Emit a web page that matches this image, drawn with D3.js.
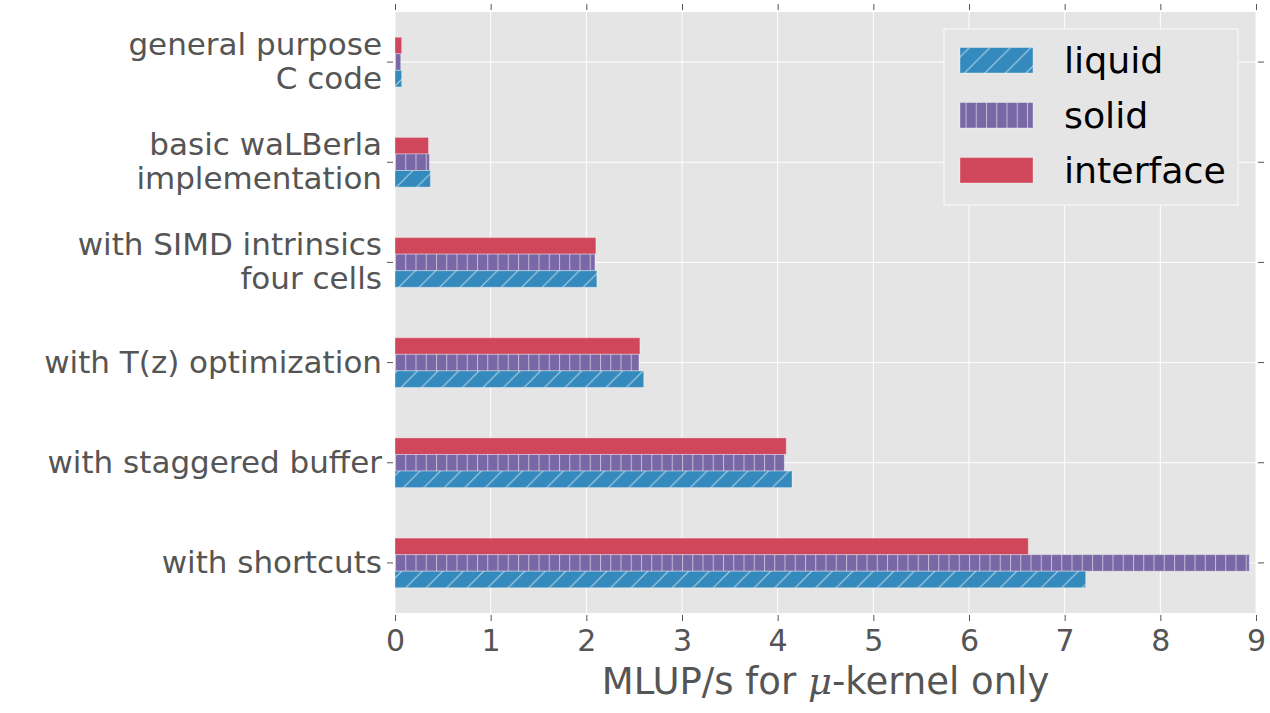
<!DOCTYPE html>
<html>
<head>
<meta charset="utf-8">
<script src="https://cdn.jsdelivr.net/npm/d3@7"></script>
<style>
  html, body { margin: 0; padding: 0; background: #ffffff; }
  svg { display: block; }
  text { font-family: "DejaVu Sans", sans-serif; }
</style>
</head>
<body>
<svg id="chart" width="1270" height="713"></svg>
<script>
// Kernel variants, top to bottom (each label may span two lines)
const categories = [
  ["general purpose", "C code"],
  ["basic waLBerla", "implementation"],
  ["with SIMD intrinsics", "four cells"],
  ["with T(z) optimization"],
  ["with staggered buffer"],
  ["with shortcuts"]
];
const categoryKeys = categories.map(c => c.join(" "));

// Throughput per cell type, MLUP/s
const liquid    = [0.07, 0.37, 2.11, 2.60, 4.15, 7.22];
const solid     = [0.06, 0.36, 2.09, 2.55, 4.07, 8.93];
const iface     = [0.07, 0.35, 2.10, 2.56, 4.09, 6.62];

const seriesNames = ["liquid", "solid", "interface"];
const seriesValues = { liquid: liquid, solid: solid, interface: iface };
// Vertical stacking inside a group: interface on top, liquid at the bottom
const stackOrder = ["interface", "solid", "liquid"];

const xTicks = [0, 1, 2, 3, 4, 5, 6, 7, 8, 9];

const colors = { liquid: "#348ABD", solid: "#7A68A6", interface: "#D0465A" };

const svg = d3.select("#chart");
const plot = { left: 395, right: 1256, top: 12, bottom: 613 };

const x = d3.scaleLinear().domain([0, 9]).range([plot.left, plot.right]);
const y = d3.scaleBand().domain(categoryKeys).range([plot.top, plot.bottom]).paddingInner(0).paddingOuter(0);
const inner = d3.scaleBand().domain(stackOrder)
  .range([y.bandwidth() * 0.252, y.bandwidth() * 0.748]).paddingInner(0);

// Hatch patterns
const defs = svg.append("defs");
const vp = 10.25;
defs.append("pattern").attr("id", "hatch-vert")
  .attr("patternUnits", "userSpaceOnUse").attr("width", vp).attr("height", vp)
  .attr("x", plot.left)
  .append("line").attr("x1", 0.5).attr("x2", 0.5).attr("y1", 0).attr("y2", vp)
  .attr("stroke", "rgba(255,255,255,0.55)").attr("stroke-width", 1);

const dp = 20.5;
defs.append("pattern").attr("id", "hatch-diag")
  .attr("patternUnits", "userSpaceOnUse").attr("width", dp).attr("height", dp)
  .attr("x", plot.left + 4)
  .append("path")
  .attr("d", `M-5,5 L5,-5 M0,${dp} L${dp},0 M${dp - 5},${dp + 5} L${dp + 5},${dp - 5}`)
  .attr("stroke", "rgba(255,255,255,0.6)").attr("stroke-width", 1.1).attr("fill", "none");

const hatchFor = { liquid: "url(#hatch-diag)", solid: "url(#hatch-vert)", interface: null };

// Plot background
svg.append("rect")
  .attr("x", plot.left).attr("y", plot.top)
  .attr("width", plot.right - plot.left).attr("height", plot.bottom - plot.top)
  .attr("fill", "#E5E5E5");

// Grid lines
const grid = svg.append("g");
grid.selectAll("line.vx").data(xTicks).join("line")
  .attr("x1", d => x(d)).attr("x2", d => x(d))
  .attr("y1", plot.top).attr("y2", plot.bottom)
  .attr("stroke", "#ffffff").attr("stroke-width", 1);
grid.selectAll("line.hy").data(categoryKeys).join("line")
  .attr("x1", plot.left).attr("x2", plot.right)
  .attr("y1", d => y(d) + y.bandwidth() / 2).attr("y2", d => y(d) + y.bandwidth() / 2)
  .attr("stroke", "#ffffff").attr("stroke-width", 1);

// Bars
const bars = svg.append("g");
stackOrder.forEach(s => {
  const vals = seriesValues[s];
  const g = bars.append("g");
  g.selectAll("rect.fill").data(categoryKeys).join("rect")
    .attr("x", x(0))
    .attr("y", d => y(d) + inner(s))
    .attr("width", (d, i) => x(vals[i]) - x(0))
    .attr("height", inner.bandwidth())
    .attr("fill", colors[s])
    .attr("stroke", "rgba(255,255,255,0.35)").attr("stroke-width", 1);
  if (hatchFor[s]) {
    g.selectAll("rect.hatch").data(categoryKeys).join("rect")
      .attr("x", x(0))
      .attr("y", d => y(d) + inner(s))
      .attr("width", (d, i) => x(vals[i]) - x(0))
      .attr("height", inner.bandwidth())
      .attr("fill", hatchFor[s]);
  }
});

// Axes (ticks outward on all four sides, no spines)
const tickColor = "#555555";
const labelColor = "#555555";

const xAxisBottom = d3.axisBottom(x).tickValues(xTicks).tickFormat(d3.format("d")).tickSize(6).tickPadding(9);
const gxb = svg.append("g").attr("transform", `translate(0,${plot.bottom + 2})`).call(xAxisBottom);
gxb.select(".domain").remove();
gxb.selectAll(".tick line").attr("stroke", tickColor);
gxb.selectAll(".tick text").attr("fill", labelColor).attr("font-size", 30)
  .attr("font-family", "DejaVu Sans, sans-serif");

const xAxisTop = d3.axisTop(x).tickValues(xTicks).tickFormat("").tickSize(6);
const gxt = svg.append("g").attr("transform", `translate(0,${plot.top - 2})`).call(xAxisTop);
gxt.select(".domain").remove();
gxt.selectAll(".tick line").attr("stroke", tickColor);

const yAxisLeft = d3.axisLeft(y).tickSize(6).tickFormat("");
const gyl = svg.append("g").attr("transform", `translate(${plot.left - 2},0)`).call(yAxisLeft);
gyl.select(".domain").remove();
gyl.selectAll(".tick line").attr("stroke", tickColor);

const yAxisRight = d3.axisRight(y).tickSize(6).tickFormat("");
const gyr = svg.append("g").attr("transform", `translate(${plot.right + 2},0)`).call(yAxisRight);
gyr.select(".domain").remove();
gyr.selectAll(".tick line").attr("stroke", tickColor);

// Multi-line category labels
const lineH = 34;
gyl.selectAll(".tick").each(function(d, i) {
  const lines = categories[i];
  const t = d3.select(this).append("text")
    .attr("x", -11).attr("text-anchor", "end")
    .attr("fill", labelColor).attr("font-size", 31)
    .attr("font-family", "DejaVu Sans, sans-serif");
  const first = -((lines.length - 1) * lineH) / 2 + 10;
  lines.forEach((ln, k) => {
    t.append("tspan").attr("x", -11).attr("y", first + k * lineH).text(ln);
  });
});

// X axis title
const xt = svg.append("text")
  .attr("x", (plot.left + plot.right) / 2).attr("y", 694)
  .attr("text-anchor", "middle").attr("fill", labelColor).attr("font-size", 37);
xt.append("tspan").text("MLUP/s for ");
xt.append("tspan").attr("font-style", "italic").attr("font-family", "DejaVu Serif, serif").text("μ");
xt.append("tspan").text("-kernel only");

// Legend
const legend = svg.append("g").attr("transform", "translate(944,29)");
legend.append("rect").attr("width", 294).attr("height", 176)
  .attr("fill", "#E5E5E5").attr("stroke", "#f7f7f7").attr("stroke-width", 1.2);
seriesNames.forEach((s, i) => {
  const gy = 18.5 + i * 55;
  const item = legend.append("g").attr("transform", `translate(16,${gy})`);
  item.append("rect").attr("width", 73).attr("height", 25.5)
    .attr("fill", colors[s]).attr("stroke", "rgba(255,255,255,0.35)");
  if (hatchFor[s]) {
    item.append("rect").attr("width", 73).attr("height", 25.5).attr("fill", hatchFor[s]);
  }
  item.append("text").attr("x", 104).attr("y", 25)
    .attr("fill", "#000000").attr("font-size", 36.3).text(s);
});
</script>
</body>
</html>
